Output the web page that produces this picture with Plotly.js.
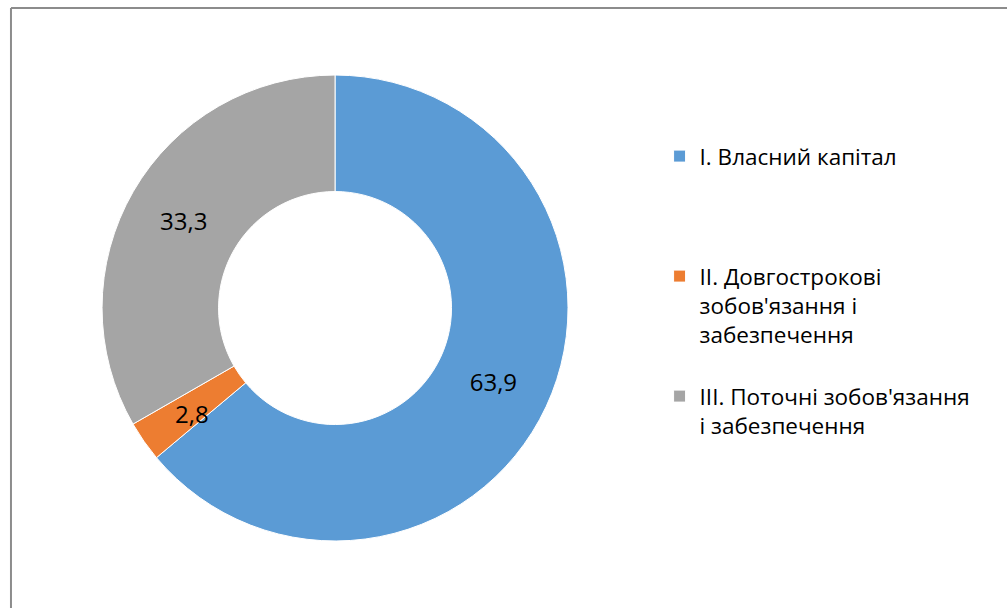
<!DOCTYPE html>
<html>
<head>
<meta charset="utf-8">
<script src="https://cdn.plot.ly/plotly-3.0.1.min.js"></script>
<style>html,body{margin:0;padding:0;background:#fff;}#chart{width:1007px;height:608px;}</style>
</head>
<body>
<div id="chart"></div>
<script>
const categories = [
  "I. Власний капітал<br> <br> <br> ",
  "II. Довгострокові<br>зобов'язання і<br>забезпечення<br> ",
  "III. Поточні зобов'язання<br>і забезпечення"
];
const values = [63.9, 2.8, 33.3];
const colors = ["#5B9BD5", "#ED7D31", "#A5A5A5"];

const W = 1007, H = 608;
const HOLE = 0.5;
const DOM_X = [0.1013, 0.5641];
const DOM_Y = [0.1102, 0.8766];
const LABEL_FONT = {family: "Open Sans, sans-serif", size: 24, color: "#000000"};

// Slices too thin for Plotly's inside text (it would shrink it) get their value as an annotation
// at the slice's mid-angle on the ring's mid-radius.
const SMALL = values.map(v => v < 5);
const total = values.reduce((a, b) => a + b, 0);
const annotations = [];
let cum = 0;
values.forEach((v, i) => {
  const mid = (cum + v / 2) / total;
  cum += v;
  if (!SMALL[i]) return;
  const th = 2 * Math.PI * mid;
  const cx = (DOM_X[0] + DOM_X[1]) / 2, cy = (DOM_Y[0] + DOM_Y[1]) / 2;
  const R = (DOM_Y[1] - DOM_Y[0]) * H / 2;
  const r = R * (1 + HOLE) / 2;
  annotations.push({
    xref: "paper", yref: "paper",
    x: cx + r * Math.sin(th) / W,
    y: cy + r * Math.cos(th) / H - 5 / H,
    xanchor: "center", yanchor: "middle",
    text: v.toFixed(1).replace(".", ","),
    showarrow: false,
    font: LABEL_FONT
  });
});

const trace = {
  type: "pie",
  labels: categories,
  values: values,
  hole: HOLE,
  sort: false,
  direction: "clockwise",
  rotation: 0,
  marker: {colors: colors, line: {color: "#ffffff", width: 1}},
  texttemplate: values.map((v, i) => SMALL[i] ? "" : "%{value:.1f}"),
  textposition: "inside",
  insidetextorientation: "horizontal",
  textfont: LABEL_FONT,
  hoverinfo: "value",
  domain: {x: DOM_X, y: DOM_Y}
};

const layout = {
  width: W,
  height: H,
  margin: {l: 0, r: 0, t: 0, b: 0},
  paper_bgcolor: "#ffffff",
  separators: ", ",
  showlegend: true,
  legend: {
    x: 0.655, y: 0.778, xanchor: "left", yanchor: "top",
    valign: "top",
    font: {family: "Open Sans, sans-serif", size: 22.5, color: "#000000"},
    traceorder: "normal"
  },
  annotations: annotations,
  shapes: [
    {type: "line", xref: "paper", yref: "paper", x0: 0.0109, x1: 1, y0: 0.9868, y1: 0.9868, line: {color: "#8c8c8c", width: 2}},
    {type: "line", xref: "paper", yref: "paper", x0: 0.0109, x1: 0.0109, y0: 0, y1: 0.9868, line: {color: "#8c8c8c", width: 2}}
  ]
};

Plotly.newPlot("chart", [trace], layout, {displayModeBar: false, staticPlot: true});
</script>
</body>
</html>
